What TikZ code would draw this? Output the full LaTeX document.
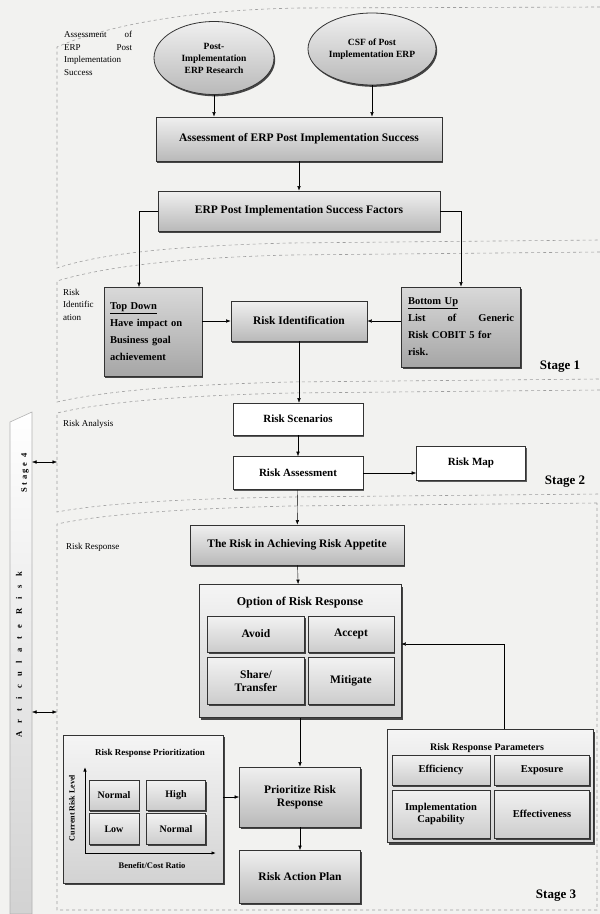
\documentclass[tikz,border=0pt]{standalone}
\usepackage{fontspec}
\setmainfont{Liberation Serif}
\usetikzlibrary{positioning,shapes.geometric,shadows,arrows.meta}
\definecolor{paper}{RGB}{242,242,240}
\begin{document}
\begin{tikzpicture}[x=1pt,y=-1pt,>={Latex[length=4.5pt,width=3.5pt]},
  every node/.style={inner sep=2pt,align=center},
  region/.style={draw=gray!75,dashed,line width=0.6pt},
  shadebox/.style={draw=black!80,line width=0.8pt,top color=gray!12,bottom color=gray!55,
    drop shadow={shadow xshift=1.2pt,shadow yshift=-1.8pt,fill=black!80,opacity=0.9},
    font=\bfseries\fontsize{11.5}{13}\selectfont},
  darkbox/.style={shadebox,top color=gray!30,bottom color=gray!70,align=left,
    font=\bfseries\fontsize{10.5}{17}\selectfont},
  whitebox/.style={draw=black!80,fill=white,line width=0.6pt,
    drop shadow={shadow xshift=1pt,shadow yshift=-1.5pt,fill=black!70,opacity=0.9},
    font=\bfseries\fontsize{11}{13}\selectfont},
  ovalbox/.style={ellipse,shadebox,inner sep=0pt,font=\bfseries\fontsize{9.5}{12}\selectfont},
  panel/.style={draw=black!80,line width=0.8pt,top color=gray!8,bottom color=gray!35,
    drop shadow={shadow xshift=1.5pt,shadow yshift=-2pt,fill=black!80,opacity=0.9}},
  cell/.style={shadebox,top color=gray!10,bottom color=gray!40},
  lbl/.style={anchor=north west,align=left,inner sep=0pt,font=\fontsize{9}{12.5}\selectfont},
  stage/.style={font=\bfseries\fontsize{13}{15}\selectfont}]
\useasboundingbox (0,0) rectangle (600,914);
\fill[paper] (0,0) rectangle (600,914);
\draw[region] (600,7) -- (300,8) .. controls (180,10) and (100,28) .. (57,47) -- (57,268) .. controls (100,254) and (170,246) .. (290,243) -- (600,240);
\draw[region] (600,252) -- (290,255) .. controls (170,258) and (100,268) .. (57,281) -- (57,402) .. controls (100,392) and (170,385) .. (290,382) -- (600,379);
\draw[region] (600,390) -- (290,393) .. controls (170,396) and (100,403) .. (57,413) -- (57,512) .. controls (100,504) and (170,499) .. (290,497) -- (600,494);
\draw[region] (597,503) -- (290,506) .. controls (170,509) and (100,515) .. (57,524) -- (57,910) -- (597,910) -- cycle;
\shade[top color=white,bottom color=gray!35,draw=gray!60,line width=0.6pt] (10,422) -- (32,412) -- (32,914) -- (10,914) -- cycle;
\node[rotate=90,font=\bfseries\fontsize{8.5}{9}\selectfont\addfontfeatures{LetterSpace=30}] (stagefour) at (25,473) {Stage 4};
\node[rotate=90,font=\bfseries\fontsize{8.5}{9}\selectfont\addfontfeatures{LetterSpace=100}] (articulate) at (19,655) {Articulate Risk};
\coordinate (barA) at (32,462);
\coordinate (regA) at (57,462);
\coordinate (barB) at (32,712);
\coordinate (regB) at (57,712);
\draw[<->] (barA) -- (regA);
\draw[<->] (barB) -- (regB);
\node[lbl,text width=68pt] (lblassess) at (64,31) {Assessment\hfill of\\ERP\hfill Post\\Implementation\\Success};
\node[lbl] (lblident) at (63,289) {Risk\\Identific\\ation};
\node[lbl] (lblanalysis) at (63,420) {Risk Analysis};
\node[lbl] (lblresponse) at (66,543) {Risk Response};
\node[stage] (stageone) at (560,367) {Stage 1};
\node[stage] (stagetwo) at (565,482) {Stage 2};
\node[stage] (stagethree) at (556,896) {Stage 3};
\node[ovalbox,minimum width=120pt,minimum height=73pt] (research) at (214,58) {Post-\\Implementation\\ERP Research};
\node[ovalbox,minimum width=128pt,minimum height=72pt] (csf) at (372,49) {CSF of Post\\Implementation ERP};
\node[shadebox,minimum width=286pt,minimum height=44pt] (assess) at (299,139) {Assessment of ERP Post Implementation Success};
\node[shadebox,minimum width=282pt,minimum height=40pt] (factors) at (299,211) {ERP Post Implementation Success Factors};
\node[darkbox,minimum width=98pt,minimum height=89pt,text width=86pt] (topdown) at (153,332) {\underline{Top Down}\\Have impact on\\Business goal\\achievement};
\node[shadebox,minimum width=136pt,minimum height=40pt] (riskid) at (299,321) {Risk Identification};
\node[darkbox,minimum width=119pt,minimum height=80pt,text width=106pt] (bottomup) at (461,327) {\underline{Bottom Up}\\List\hfill of\hfill Generic\\Risk COBIT 5 for\\risk.};
\node[whitebox,minimum width=130pt,minimum height=32pt] (scenarios) at (298,419) {Risk Scenarios};
\node[whitebox,minimum width=130pt,minimum height=33pt] (riskassess) at (298,473) {Risk Assessment};
\node[whitebox,minimum width=109pt,minimum height=34pt] (riskmap) at (471,463) {Risk Map};
\node[shadebox,minimum width=214pt,minimum height=40pt] (appetite) at (297,545) {The Risk in Achieving Risk Appetite};
\node[panel,minimum width=202pt,minimum height=133pt] (options) at (300,651) {};
\node[font=\bfseries\fontsize{12}{14}\selectfont] (optitle) at (300,603) {Option of Risk Response};
\node[cell,minimum width=97pt,minimum height=36pt] (avoid) at (256,634) {Avoid};
\node[cell,minimum width=86pt,minimum height=36pt] (accept) at (351,634) {Accept};
\node[cell,minimum width=97pt,minimum height=47pt] (share) at (256,681) {Share/\\Transfer};
\node[cell,minimum width=86pt,minimum height=47pt] (mitigate) at (351,681) {Mitigate};
\node[panel,minimum width=160pt,minimum height=148pt] (prioritization) at (143,809) {};
\node[font=\bfseries\fontsize{9}{11}\selectfont] (priotitle) at (150,753) {Risk Response Prioritization};
\coordinate (origin) at (85,853);
\coordinate (ytip) at (85,767);
\coordinate (xtip) at (216,853);
\draw[->,line width=1pt] (origin) -- (ytip);
\draw[->,line width=1pt] (origin) -- (xtip);
\node[rotate=90,font=\bfseries\fontsize{8}{9}\selectfont] (ylabel) at (72,808) {Current Risk Level};
\node[font=\bfseries\fontsize{8.5}{10}\selectfont] (xlabel) at (152,866) {Benefit/Cost Ratio};
\node[cell,minimum width=50pt,minimum height=30pt,font=\bfseries\fontsize{10}{12}\selectfont] (normalA) at (114,795) {Normal};
\node[cell,minimum width=59pt,minimum height=30pt,font=\bfseries\fontsize{10}{12}\selectfont] (high) at (176,795) {High};
\node[cell,minimum width=50pt,minimum height=31pt,font=\bfseries\fontsize{10}{12}\selectfont] (low) at (114,829) {Low};
\node[cell,minimum width=59pt,minimum height=31pt,font=\bfseries\fontsize{10}{12}\selectfont] (normalB) at (176,829) {Normal};
\node[shadebox,minimum width=121pt,minimum height=60pt] (prioritize) at (300,797) {Prioritize Risk\\Response};
\node[shadebox,minimum width=121pt,minimum height=53pt] (actionplan) at (300,877) {Risk Action Plan};
\node[panel,minimum width=206pt,minimum height=113pt] (parameters) at (490,786) {};
\node[font=\bfseries\fontsize{10}{12}\selectfont] (paramtitle) at (487,748) {Risk Response Parameters};
\node[cell,minimum width=98pt,minimum height=30pt,font=\bfseries\fontsize{10.5}{12}\selectfont] (efficiency) at (441,770) {Efficiency};
\node[cell,minimum width=95pt,minimum height=30pt,font=\bfseries\fontsize{10.5}{12}\selectfont] (exposure) at (542,770) {Exposure};
\node[cell,minimum width=98pt,minimum height=48pt,font=\bfseries\fontsize{10.5}{12}\selectfont] (capability) at (441,814) {Implementation\\Capability};
\node[cell,minimum width=95pt,minimum height=48pt,font=\bfseries\fontsize{10.5}{12}\selectfont] (effectiveness) at (542,814) {Effectiveness};
\draw[->] (research.south) -- (research.south |- assess.north);
\draw[->] (csf.south) -- (csf.south |- assess.north);
\draw[->] (assess) -- (factors);
\draw[->] (factors.west) -| ([xshift=-14pt]topdown.north);
\draw[->] (factors.east) -| (bottomup.north);
\draw[->] (topdown.east |- riskid) -- (riskid.west);
\draw[->] (bottomup.west |- riskid) -- (riskid.east);
\draw[->] (riskid) -- (riskid |- scenarios.north);
\draw[->] (scenarios) -- (riskassess);
\draw[->] (riskassess) -- (riskassess -| riskmap.west);
\draw[->] (riskassess) -- (appetite);
\draw[->] (appetite) -- (options);
\draw[->] (options) -- (prioritize);
\draw[->] (prioritize) -- (actionplan);
\draw[->] (prioritization.east |- prioritize) -- (prioritize.west);
\draw[->] ([xshift=14pt]parameters.north) |- ([yshift=7pt]options.east);
\end{tikzpicture}
\end{document}
